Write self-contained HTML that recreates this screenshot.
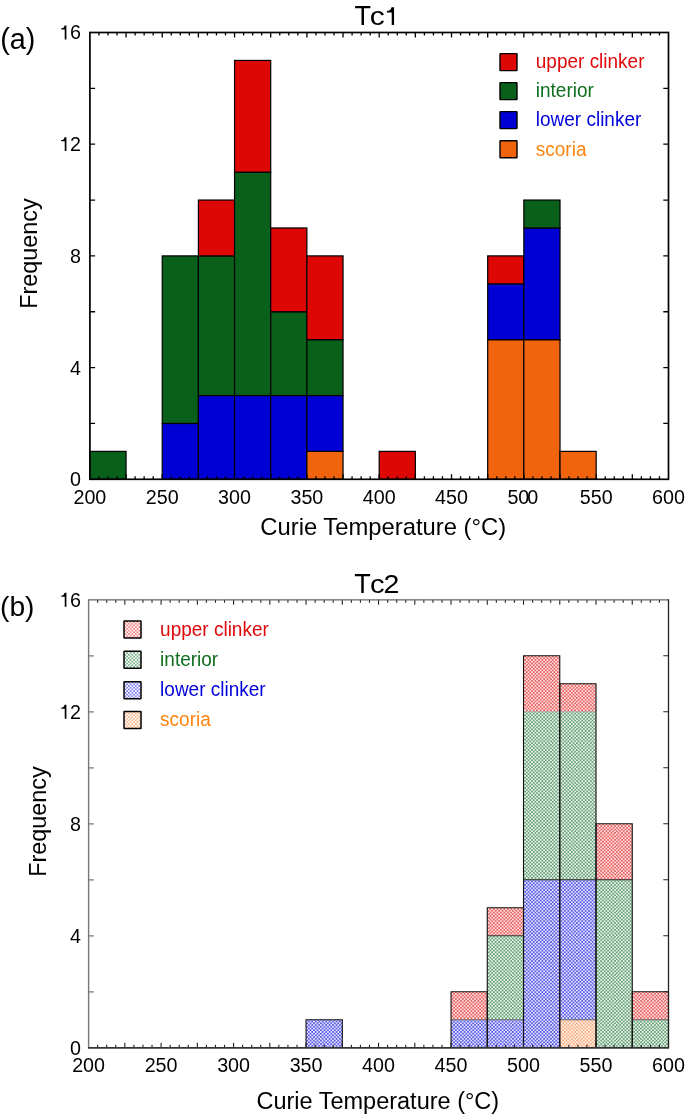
<!DOCTYPE html>
<html><head><meta charset="utf-8"><style>
html,body{margin:0;padding:0;background:#fff;}
svg{display:block;will-change:transform;}
text{font-family:"Liberation Sans", sans-serif;fill:#000;}
</style></head><body>
<svg width="685" height="1115" viewBox="0 0 685 1115">
<defs>
<pattern id="pr" width="3.46" height="3.46" patternUnits="userSpaceOnUse"><rect width="3.46" height="3.46" fill="#fbe2e2"/><rect width="1.73" height="1.73" fill="#ec6060"/><rect x="1.73" y="1.73" width="1.73" height="1.73" fill="#ec6060"/></pattern>
<pattern id="pg" width="3.46" height="3.46" patternUnits="userSpaceOnUse"><rect width="3.46" height="3.46" fill="#eaf4ec"/><rect width="1.73" height="1.73" fill="#68a278"/><rect x="1.73" y="1.73" width="1.73" height="1.73" fill="#68a278"/></pattern>
<pattern id="pb" width="3.46" height="3.46" patternUnits="userSpaceOnUse"><rect width="3.46" height="3.46" fill="#e4e4fa"/><rect width="1.73" height="1.73" fill="#5c5cec"/><rect x="1.73" y="1.73" width="1.73" height="1.73" fill="#5c5cec"/></pattern>
<pattern id="po" width="3.46" height="3.46" patternUnits="userSpaceOnUse"><rect width="3.46" height="3.46" fill="#fff0e6"/><rect width="1.73" height="1.73" fill="#f8b086"/><rect x="1.73" y="1.73" width="1.73" height="1.73" fill="#f8b086"/></pattern>
<pattern id="lr" width="3.46" height="3.46" patternUnits="userSpaceOnUse"><rect width="3.46" height="3.46" fill="#ffffff"/><rect width="1.73" height="1.73" fill="#f08080"/><rect x="1.73" y="1.73" width="1.73" height="1.73" fill="#f08080"/></pattern>
<pattern id="lg" width="3.46" height="3.46" patternUnits="userSpaceOnUse"><rect width="3.46" height="3.46" fill="#ffffff"/><rect width="1.73" height="1.73" fill="#7cb08a"/><rect x="1.73" y="1.73" width="1.73" height="1.73" fill="#7cb08a"/></pattern>
<pattern id="lb" width="3.46" height="3.46" patternUnits="userSpaceOnUse"><rect width="3.46" height="3.46" fill="#ffffff"/><rect width="1.73" height="1.73" fill="#8080f0"/><rect x="1.73" y="1.73" width="1.73" height="1.73" fill="#8080f0"/></pattern>
<pattern id="lo" width="3.46" height="3.46" patternUnits="userSpaceOnUse"><rect width="3.46" height="3.46" fill="#ffffff"/><rect width="1.73" height="1.73" fill="#f8b88c"/><rect x="1.73" y="1.73" width="1.73" height="1.73" fill="#f8b88c"/></pattern>
</defs>
<rect x="89.9" y="451.38" width="36.16" height="27.93" fill="#08601a" stroke="#000" stroke-width="1.2"/>
<rect x="162.23" y="423.45" width="36.16" height="55.85" fill="#0000d4" stroke="#000" stroke-width="1.2"/>
<rect x="162.23" y="255.9" width="36.16" height="167.55" fill="#08601a" stroke="#000" stroke-width="1.2"/>
<rect x="198.39" y="395.52" width="36.16" height="83.78" fill="#0000d4" stroke="#000" stroke-width="1.2"/>
<rect x="198.39" y="255.9" width="36.16" height="139.62" fill="#08601a" stroke="#000" stroke-width="1.2"/>
<rect x="198.39" y="200.05" width="36.16" height="55.85" fill="#dd0805" stroke="#000" stroke-width="1.2"/>
<rect x="234.55" y="395.52" width="36.16" height="83.78" fill="#0000d4" stroke="#000" stroke-width="1.2"/>
<rect x="234.55" y="172.12" width="36.16" height="223.4" fill="#08601a" stroke="#000" stroke-width="1.2"/>
<rect x="234.55" y="60.43" width="36.16" height="111.7" fill="#dd0805" stroke="#000" stroke-width="1.2"/>
<rect x="270.71" y="395.52" width="36.16" height="83.78" fill="#0000d4" stroke="#000" stroke-width="1.2"/>
<rect x="270.71" y="311.75" width="36.16" height="83.77" fill="#08601a" stroke="#000" stroke-width="1.2"/>
<rect x="270.71" y="227.97" width="36.16" height="83.78" fill="#dd0805" stroke="#000" stroke-width="1.2"/>
<rect x="306.88" y="451.38" width="36.16" height="27.93" fill="#f0640e" stroke="#000" stroke-width="1.2"/>
<rect x="306.88" y="395.52" width="36.16" height="55.85" fill="#0000d4" stroke="#000" stroke-width="1.2"/>
<rect x="306.88" y="339.68" width="36.16" height="55.85" fill="#08601a" stroke="#000" stroke-width="1.2"/>
<rect x="306.88" y="255.9" width="36.16" height="83.78" fill="#dd0805" stroke="#000" stroke-width="1.2"/>
<rect x="379.2" y="451.38" width="36.16" height="27.93" fill="#dd0805" stroke="#000" stroke-width="1.2"/>
<rect x="487.69" y="339.68" width="36.16" height="139.62" fill="#f0640e" stroke="#000" stroke-width="1.2"/>
<rect x="487.69" y="283.83" width="36.16" height="55.85" fill="#0000d4" stroke="#000" stroke-width="1.2"/>
<rect x="487.69" y="255.9" width="36.16" height="27.93" fill="#dd0805" stroke="#000" stroke-width="1.2"/>
<rect x="523.85" y="339.68" width="36.16" height="139.62" fill="#f0640e" stroke="#000" stroke-width="1.2"/>
<rect x="523.85" y="227.97" width="36.16" height="111.7" fill="#0000d4" stroke="#000" stroke-width="1.2"/>
<rect x="523.85" y="200.05" width="36.16" height="27.92" fill="#08601a" stroke="#000" stroke-width="1.2"/>
<rect x="560.01" y="451.38" width="36.16" height="27.93" fill="#f0640e" stroke="#000" stroke-width="1.2"/>
<path d="M98.94 479.3v-3 M98.94 32.5v3 M107.98 479.3v-3 M107.98 32.5v3 M117.02 479.3v-3 M117.02 32.5v3 M126.06 479.3v-5 M126.06 32.5v5 M135.1 479.3v-3 M135.1 32.5v3 M144.14 479.3v-3 M144.14 32.5v3 M153.18 479.3v-3 M153.18 32.5v3 M162.23 479.3v-5 M162.23 32.5v5 M171.27 479.3v-3 M171.27 32.5v3 M180.31 479.3v-3 M180.31 32.5v3 M189.35 479.3v-3 M189.35 32.5v3 M198.39 479.3v-5 M198.39 32.5v5 M207.43 479.3v-3 M207.43 32.5v3 M216.47 479.3v-3 M216.47 32.5v3 M225.51 479.3v-3 M225.51 32.5v3 M234.55 479.3v-5 M234.55 32.5v5 M243.59 479.3v-3 M243.59 32.5v3 M252.63 479.3v-3 M252.63 32.5v3 M261.67 479.3v-3 M261.67 32.5v3 M270.71 479.3v-5 M270.71 32.5v5 M279.75 479.3v-3 M279.75 32.5v3 M288.79 479.3v-3 M288.79 32.5v3 M297.83 479.3v-3 M297.83 32.5v3 M306.88 479.3v-5 M306.88 32.5v5 M315.92 479.3v-3 M315.92 32.5v3 M324.96 479.3v-3 M324.96 32.5v3 M334 479.3v-3 M334 32.5v3 M343.04 479.3v-5 M343.04 32.5v5 M352.08 479.3v-3 M352.08 32.5v3 M361.12 479.3v-3 M361.12 32.5v3 M370.16 479.3v-3 M370.16 32.5v3 M379.2 479.3v-5 M379.2 32.5v5 M388.24 479.3v-3 M388.24 32.5v3 M397.28 479.3v-3 M397.28 32.5v3 M406.32 479.3v-3 M406.32 32.5v3 M415.36 479.3v-5 M415.36 32.5v5 M424.4 479.3v-3 M424.4 32.5v3 M433.44 479.3v-3 M433.44 32.5v3 M442.48 479.3v-3 M442.48 32.5v3 M451.52 479.3v-5 M451.52 32.5v5 M460.57 479.3v-3 M460.57 32.5v3 M469.61 479.3v-3 M469.61 32.5v3 M478.65 479.3v-3 M478.65 32.5v3 M487.69 479.3v-5 M487.69 32.5v5 M496.73 479.3v-3 M496.73 32.5v3 M505.77 479.3v-3 M505.77 32.5v3 M514.81 479.3v-3 M514.81 32.5v3 M523.85 479.3v-5 M523.85 32.5v5 M532.89 479.3v-3 M532.89 32.5v3 M541.93 479.3v-3 M541.93 32.5v3 M550.97 479.3v-3 M550.97 32.5v3 M560.01 479.3v-5 M560.01 32.5v5 M569.05 479.3v-3 M569.05 32.5v3 M578.09 479.3v-3 M578.09 32.5v3 M587.13 479.3v-3 M587.13 32.5v3 M596.17 479.3v-5 M596.17 32.5v5 M605.22 479.3v-3 M605.22 32.5v3 M614.26 479.3v-3 M614.26 32.5v3 M623.3 479.3v-3 M623.3 32.5v3 M632.34 479.3v-5 M632.34 32.5v5 M641.38 479.3v-3 M641.38 32.5v3 M650.42 479.3v-3 M650.42 32.5v3 M659.46 479.3v-3 M659.46 32.5v3 M89.9 423.45h5.2 M668.5 423.45h-5.2 M89.9 367.6h5.2 M668.5 367.6h-5.2 M89.9 311.75h5.2 M668.5 311.75h-5.2 M89.9 255.9h5.2 M668.5 255.9h-5.2 M89.9 200.05h5.2 M668.5 200.05h-5.2 M89.9 144.2h5.2 M668.5 144.2h-5.2 M89.9 88.35h5.2 M668.5 88.35h-5.2" stroke="#000" stroke-width="1.3" fill="none"/>
<rect x="89.9" y="32.5" width="578.6" height="446.8" fill="none" stroke="#000" stroke-width="1.7"/>
<text x="81" y="486.2" text-anchor="end" font-size="19.7">0</text>
<text x="81" y="374.5" text-anchor="end" font-size="19.7">4</text>
<text x="81" y="262.8" text-anchor="end" font-size="19.7">8</text>
<text x="70.05" y="151.1" font-size="19.7">2</text>
<path transform="translate(59.09 151.1) scale(0.01970 -0.01970)" d="M372 0H286V500H106V561C209 566 253 601 279 709H372Z"/>
<text x="70.05" y="39.4" font-size="19.7">6</text>
<path transform="translate(59.09 39.4) scale(0.01970 -0.01970)" d="M372 0H286V500H106V561C209 566 253 601 279 709H372Z"/>
<text x="89.9" y="503.7" text-anchor="middle" font-size="19.7">200</text>
<text x="162.23" y="503.7" text-anchor="middle" font-size="19.7">250</text>
<text x="234.55" y="503.7" text-anchor="middle" font-size="19.7">300</text>
<text x="306.88" y="503.7" text-anchor="middle" font-size="19.7">350</text>
<text x="379.2" y="503.7" text-anchor="middle" font-size="19.7">400</text>
<text x="451.52" y="503.7" text-anchor="middle" font-size="19.7">450</text>
<text x="507.42" y="503.7" font-size="19.7">50<tspan dx="-2.2">0</tspan></text>
<text x="596.17" y="503.7" text-anchor="middle" font-size="19.7">550</text>
<text x="668.5" y="503.7" text-anchor="middle" font-size="19.7">600</text>
<text x="354.4" y="24.9" font-size="27">T</text>
<text transform="translate(369.85 24.9) scale(1.11 0.93)" font-size="27">c</text>
<path transform="translate(384 24.9) scale(0.02700 -0.02484)" d="M372 0H286V500H106V561C209 566 253 601 279 709H372Z"/>
<text x="0.2" y="48.6" font-size="28.8">(a)</text>
<text transform="translate(37.2 253.5) rotate(-90)" text-anchor="middle" font-size="23.4">Frequency</text>
<text x="383.2" y="534.7" text-anchor="middle" font-size="23.8">Curie Temperature (°C)</text>
<rect x="500" y="53.6" width="17" height="17" rx="0.5" fill="#dd0805" stroke="#000" stroke-width="1.4"/>
<text transform="translate(535.8 67.9) scale(1 1.06)" font-size="19" style="fill:#e0080a">upper clinker</text>
<rect x="500" y="82.6" width="17" height="17" rx="0.5" fill="#08601a" stroke="#000" stroke-width="1.4"/>
<text transform="translate(535.8 97.2) scale(1 1.06)" font-size="19" style="fill:#0e6e1e">interior</text>
<rect x="500" y="111.6" width="17" height="17" rx="0.5" fill="#0000d4" stroke="#000" stroke-width="1.4"/>
<text transform="translate(535.8 126.2) scale(1 1.06)" font-size="19" style="fill:#0000dc">lower clinker</text>
<rect x="500" y="140.8" width="17" height="17" rx="0.5" fill="#f0640e" stroke="#000" stroke-width="1.4"/>
<text transform="translate(535.8 155.5) scale(1 1.06)" font-size="19" style="fill:#ff8410">scoria</text>
<rect x="306.06" y="1019.8" width="36.24" height="28" fill="url(#pb)"/>
<rect x="451.04" y="1019.8" width="36.24" height="28" fill="url(#pb)"/>
<rect x="451.04" y="991.8" width="36.24" height="28" fill="url(#pr)"/>
<rect x="487.28" y="1019.8" width="36.24" height="28" fill="url(#pb)"/>
<rect x="487.28" y="935.8" width="36.24" height="84" fill="url(#pg)"/>
<rect x="487.28" y="907.8" width="36.24" height="28" fill="url(#pr)"/>
<rect x="523.52" y="879.8" width="36.24" height="168" fill="url(#pb)"/>
<rect x="523.52" y="711.8" width="36.24" height="168" fill="url(#pg)"/>
<rect x="523.52" y="655.8" width="36.24" height="56" fill="url(#pr)"/>
<rect x="559.77" y="1019.8" width="36.24" height="28" fill="url(#po)"/>
<rect x="559.77" y="879.8" width="36.24" height="140" fill="url(#pb)"/>
<rect x="559.77" y="711.8" width="36.24" height="168" fill="url(#pg)"/>
<rect x="559.77" y="683.8" width="36.24" height="28" fill="url(#pr)"/>
<rect x="596.01" y="879.8" width="36.24" height="168" fill="url(#pg)"/>
<rect x="596.01" y="823.8" width="36.24" height="56" fill="url(#pr)"/>
<rect x="632.26" y="1019.8" width="36.24" height="28" fill="url(#pg)"/>
<rect x="632.26" y="991.8" width="36.24" height="28" fill="url(#pr)"/>
<path d="M451.04 1019.8H487.28" stroke="#666" stroke-width="1.1"/>
<path d="M487.28 1019.8H523.52" stroke="#666" stroke-width="1.1"/>
<path d="M487.28 935.8H523.52" stroke="#333" stroke-width="1.1"/>
<path d="M523.52 879.8H559.77" stroke="#222" stroke-width="1.1"/>
<path d="M523.52 711.8H559.77" stroke="#aaa" stroke-width="1.1"/>
<path d="M559.77 1019.8H596.01" stroke="#666" stroke-width="1.1"/>
<path d="M559.77 879.8H596.01" stroke="#222" stroke-width="1.1"/>
<path d="M559.77 711.8H596.01" stroke="#aaa" stroke-width="1.1"/>
<path d="M596.01 879.8H632.26" stroke="#222" stroke-width="1.1"/>
<path d="M632.26 1019.8H668.5" stroke="#666" stroke-width="1.1"/>
<path d="M306.06 1047.8V1019.8H342.31V1047.8" fill="none" stroke="#111" stroke-width="1.1"/>
<path d="M451.04 1047.8V991.8H487.28V1047.8" fill="none" stroke="#111" stroke-width="1.1"/>
<path d="M487.28 1047.8V907.8H523.52V1047.8" fill="none" stroke="#111" stroke-width="1.1"/>
<path d="M523.52 1047.8V655.8H559.77V1047.8" fill="none" stroke="#111" stroke-width="1.1"/>
<path d="M559.77 1047.8V683.8H596.01V1047.8" fill="none" stroke="#111" stroke-width="1.1"/>
<path d="M596.01 1047.8V823.8H632.26V1047.8" fill="none" stroke="#111" stroke-width="1.1"/>
<path d="M632.26 1047.8V991.8H668.5V1047.8" fill="none" stroke="#111" stroke-width="1.1"/>
<path d="M97.66 1047.8v-3 M97.66 599.8v3 M106.72 1047.8v-3 M106.72 599.8v3 M115.78 1047.8v-3 M115.78 599.8v3 M124.84 1047.8v-5 M124.84 599.8v5 M133.9 1047.8v-3 M133.9 599.8v3 M142.97 1047.8v-3 M142.97 599.8v3 M152.03 1047.8v-3 M152.03 599.8v3 M161.09 1047.8v-5 M161.09 599.8v5 M170.15 1047.8v-3 M170.15 599.8v3 M179.21 1047.8v-3 M179.21 599.8v3 M188.27 1047.8v-3 M188.27 599.8v3 M197.33 1047.8v-5 M197.33 599.8v5 M206.39 1047.8v-3 M206.39 599.8v3 M215.45 1047.8v-3 M215.45 599.8v3 M224.51 1047.8v-3 M224.51 599.8v3 M233.57 1047.8v-5 M233.57 599.8v5 M242.64 1047.8v-3 M242.64 599.8v3 M251.7 1047.8v-3 M251.7 599.8v3 M260.76 1047.8v-3 M260.76 599.8v3 M269.82 1047.8v-5 M269.82 599.8v5 M278.88 1047.8v-3 M278.88 599.8v3 M287.94 1047.8v-3 M287.94 599.8v3 M297 1047.8v-3 M297 599.8v3 M306.06 1047.8v-5 M306.06 599.8v5 M315.12 1047.8v-3 M315.12 599.8v3 M324.18 1047.8v-3 M324.18 599.8v3 M333.25 1047.8v-3 M333.25 599.8v3 M342.31 1047.8v-5 M342.31 599.8v5 M351.37 1047.8v-3 M351.37 599.8v3 M360.43 1047.8v-3 M360.43 599.8v3 M369.49 1047.8v-3 M369.49 599.8v3 M378.55 1047.8v-5 M378.55 599.8v5 M387.61 1047.8v-3 M387.61 599.8v3 M396.67 1047.8v-3 M396.67 599.8v3 M405.73 1047.8v-3 M405.73 599.8v3 M414.79 1047.8v-5 M414.79 599.8v5 M423.85 1047.8v-3 M423.85 599.8v3 M432.92 1047.8v-3 M432.92 599.8v3 M441.98 1047.8v-3 M441.98 599.8v3 M451.04 1047.8v-5 M451.04 599.8v5 M460.1 1047.8v-3 M460.1 599.8v3 M469.16 1047.8v-3 M469.16 599.8v3 M478.22 1047.8v-3 M478.22 599.8v3 M487.28 1047.8v-5 M487.28 599.8v5 M496.34 1047.8v-3 M496.34 599.8v3 M505.4 1047.8v-3 M505.4 599.8v3 M514.46 1047.8v-3 M514.46 599.8v3 M523.52 1047.8v-5 M523.52 599.8v5 M532.59 1047.8v-3 M532.59 599.8v3 M541.65 1047.8v-3 M541.65 599.8v3 M550.71 1047.8v-3 M550.71 599.8v3 M559.77 1047.8v-5 M559.77 599.8v5 M568.83 1047.8v-3 M568.83 599.8v3 M577.89 1047.8v-3 M577.89 599.8v3 M586.95 1047.8v-3 M586.95 599.8v3 M596.01 1047.8v-5 M596.01 599.8v5 M605.07 1047.8v-3 M605.07 599.8v3 M614.13 1047.8v-3 M614.13 599.8v3 M623.2 1047.8v-3 M623.2 599.8v3 M632.26 1047.8v-5 M632.26 599.8v5 M641.32 1047.8v-3 M641.32 599.8v3 M650.38 1047.8v-3 M650.38 599.8v3 M659.44 1047.8v-3 M659.44 599.8v3 M668.5 991.8h-5.2 M668.5 935.8h-5.2 M668.5 879.8h-5.2 M668.5 823.8h-5.2 M668.5 767.8h-5.2 M668.5 711.8h-5.2 M668.5 655.8h-5.2" stroke="#222" stroke-width="1.1" fill="none"/>
<path d="M88.6 991.8h5.2 M88.6 935.8h5.2 M88.6 879.8h5.2 M88.6 823.8h5.2 M88.6 767.8h5.2 M88.6 711.8h5.2 M88.6 655.8h5.2" stroke="#777" stroke-width="1.3" fill="none"/>
<path d="M88.6 1047.8V599.8" stroke="#777" stroke-width="1.4" fill="none"/>
<path d="M88 599.8H668.5" stroke="#666" stroke-width="1.2" fill="none"/>
<path d="M668.5 599.2V1047.8" stroke="#222" stroke-width="1.3" fill="none"/>
<path d="M88 1047.8H669.1" stroke="#333" stroke-width="1.8" fill="none"/>
<text x="81" y="1054.7" text-anchor="end" font-size="19.7">0</text>
<text x="81" y="942.7" text-anchor="end" font-size="19.7">4</text>
<text x="81" y="830.7" text-anchor="end" font-size="19.7">8</text>
<text x="70.05" y="718.7" font-size="19.7">2</text>
<path transform="translate(59.09 718.7) scale(0.01970 -0.01970)" d="M372 0H286V500H106V561C209 566 253 601 279 709H372Z"/>
<text x="70.05" y="606.7" font-size="19.7">6</text>
<path transform="translate(59.09 606.7) scale(0.01970 -0.01970)" d="M372 0H286V500H106V561C209 566 253 601 279 709H372Z"/>
<text x="88.6" y="1071.5" text-anchor="middle" font-size="19.7">200</text>
<text x="161.09" y="1071.5" text-anchor="middle" font-size="19.7">250</text>
<text x="233.57" y="1071.5" text-anchor="middle" font-size="19.7">300</text>
<text x="306.06" y="1071.5" text-anchor="middle" font-size="19.7">350</text>
<text x="378.55" y="1071.5" text-anchor="middle" font-size="19.7">400</text>
<text x="451.04" y="1071.5" text-anchor="middle" font-size="19.7">450</text>
<text x="523.52" y="1071.5" text-anchor="middle" font-size="19.7">500</text>
<text x="596.01" y="1071.5" text-anchor="middle" font-size="19.7">550</text>
<text x="668.5" y="1071.5" text-anchor="middle" font-size="19.7">600</text>
<text x="354.3" y="592.7" font-size="27">T</text>
<text transform="translate(370.0 592.7) scale(1.08 0.93)" font-size="27">c</text>
<text transform="translate(383.5 592.7) scale(1.057 0.95)" font-size="27">2</text>
<text x="0" y="615.6" font-size="28.2">(b)</text>
<text transform="translate(46 821.6) rotate(-90)" text-anchor="middle" font-size="23.4">Frequency</text>
<text x="377.8" y="1109.3" text-anchor="middle" font-size="23.5">Curie Temperature (°C)</text>
<rect x="124" y="620.9" width="17" height="17" rx="0.5" fill="url(#lr)" stroke="#000" stroke-width="1.5"/>
<text transform="translate(160.1 636.0) scale(1 1.06)" font-size="19" style="fill:#e0080a">upper clinker</text>
<rect x="124" y="651.3" width="17" height="17" rx="0.5" fill="url(#lg)" stroke="#000" stroke-width="1.5"/>
<text transform="translate(160.1 666.3) scale(1 1.06)" font-size="19" style="fill:#0e6e1e">interior</text>
<rect x="124" y="681.7" width="17" height="17" rx="0.5" fill="url(#lb)" stroke="#000" stroke-width="1.5"/>
<text transform="translate(160.1 696.0) scale(1 1.06)" font-size="19" style="fill:#0000dc">lower clinker</text>
<rect x="124" y="711.6" width="17" height="17" rx="0.5" fill="url(#lo)" stroke="#000" stroke-width="1.5"/>
<text transform="translate(160.1 725.9) scale(1 1.06)" font-size="19" style="fill:#ff8410">scoria</text>
</svg>
</body></html>
